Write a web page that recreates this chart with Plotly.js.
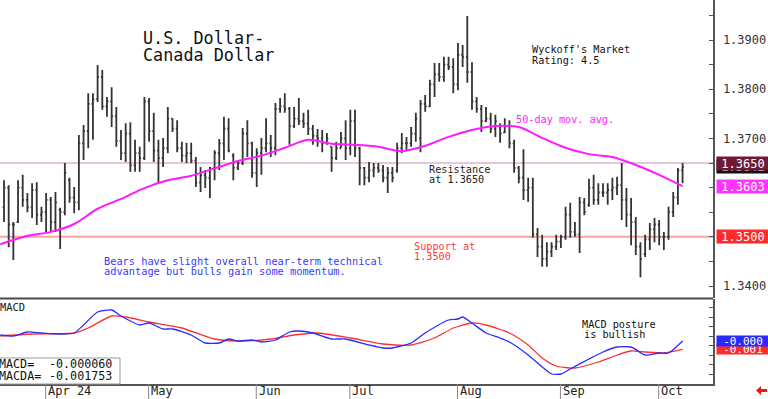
<!DOCTYPE html>
<html><head><meta charset="utf-8">
<script src="https://cdn.plot.ly/plotly-3.0.1.min.js"></script>
<style>html,body{margin:0;padding:0;background:#fff}#chart{width:768px;height:399px}</style>
</head><body><div id="chart"></div>
<script>
// Daily bars, 2024-03-19 .. 2024-10-08 (trading-day index)
const opens = [1.3560,1.3600,1.3525,1.3530,1.3600,1.3575,1.3560,1.3595,1.3545,1.3550,
1.3575,1.3530,1.3555,1.3550,1.3615,1.3580,1.3570,1.3690,1.3715,1.3770,
1.3780,1.3825,1.3765,1.3775,1.3745,1.3695,1.3670,1.3710,1.3645,1.3670,
1.3660,1.3775,1.3715,1.3675,1.3660,1.3680,1.3740,1.3720,1.3680,1.3665,
1.3670,1.3655,1.3610,1.3625,1.3620,1.3640,1.3670,1.3690,1.3720,1.3665,
1.3640,1.3650,1.3710,1.3690,1.3630,1.3670,1.3680,1.3690,1.3680,1.3760,
1.3765,1.3760,1.3725,1.3740,1.3735,1.3730,1.3720,1.3705,1.3700,1.3690,
1.3683,1.3660,1.3680,1.3700,1.3680,1.3735,1.3680,1.3640,1.3620,1.3635,
1.3640,1.3635,1.3620,1.3630,1.3635,1.3680,1.3690,1.3690,1.3710,1.3700,
1.3770,1.3765,1.3810,1.3830,1.3825,1.3850,1.3845,1.3810,1.3870,1.3865,
1.3835,1.3775,1.3760,1.3735,1.3740,1.3720,1.3725,1.3712,1.3725,1.3690,
1.3640,1.3620,1.3595,1.3600,1.3505,1.3480,1.3455,1.3470,1.3480,1.3490,
1.3500,1.3545,1.3510,1.3505,1.3570,1.3565,1.3600,1.3575,1.3590,1.3590,
1.3595,1.3600,1.3605,1.3575,1.3545,1.3530,1.3480,1.3465,1.3495,1.3515,
1.3525,1.3500,1.3500,1.3550,1.3580,1.3635];
const highs = [1.3615,1.3605,1.3530,1.3615,1.3626,1.3589,1.3609,1.3611,1.3561,1.3589,
1.3581,1.3591,1.3559,1.3650,1.3620,1.3601,1.3707,1.3727,1.3792,1.3792,
1.3849,1.3839,1.3784,1.3804,1.3764,1.3717,1.3731,1.3733,1.3697,1.3683,
1.3784,1.3782,1.3752,1.3697,1.3701,1.3764,1.3741,1.3737,1.3693,1.3691,
1.3691,1.3662,1.3642,1.3636,1.3642,1.3676,1.3699,1.3744,1.3741,1.3670,
1.3656,1.3721,1.3737,1.3693,1.3680,1.3701,1.3741,1.3707,1.3772,1.3782,
1.3792,1.3764,1.3764,1.3782,1.3752,1.3758,1.3727,1.3719,1.3717,1.3711,
1.3683,1.3693,1.3713,1.3737,1.3758,1.3758,1.3683,1.3642,1.3652,1.3650,
1.3650,1.3646,1.3642,1.3642,1.3691,1.3711,1.3703,1.3723,1.3752,1.3778,
1.3788,1.3819,1.3853,1.3853,1.3866,1.3866,1.3863,1.3894,1.3890,1.3949,
1.3855,1.3784,1.3768,1.3764,1.3752,1.3748,1.3731,1.3741,1.3737,1.3697,
1.3644,1.3678,1.3620,1.3620,1.3518,1.3504,1.3489,1.3489,1.3504,1.3504,
1.3561,1.3569,1.3530,1.3581,1.3579,1.3618,1.3626,1.3609,1.3609,1.3609,
1.3620,1.3622,1.3650,1.3599,1.3579,1.3540,1.3489,1.3504,1.3528,1.3538,
1.3534,1.3510,1.3561,1.3591,1.3640,1.3650];
const lows = [1.3530,1.3479,1.3453,1.3528,1.3561,1.3550,1.3538,1.3524,1.3530,1.3510,
1.3510,1.3510,1.3475,1.3544,1.3569,1.3548,1.3554,1.3656,1.3680,1.3697,
1.3774,1.3758,1.3744,1.3723,1.3683,1.3656,1.3652,1.3632,1.3632,1.3632,
1.3656,1.3693,1.3652,1.3609,1.3642,1.3670,1.3713,1.3672,1.3652,1.3650,
1.3650,1.3601,1.3591,1.3599,1.3579,1.3615,1.3636,1.3656,1.3672,1.3615,
1.3636,1.3646,1.3662,1.3620,1.3601,1.3626,1.3672,1.3662,1.3666,1.3752,
1.3752,1.3687,1.3721,1.3727,1.3721,1.3707,1.3687,1.3683,1.3672,1.3687,
1.3632,1.3656,1.3680,1.3656,1.3666,1.3662,1.3605,1.3605,1.3611,1.3621,
1.3630,1.3611,1.3589,1.3611,1.3630,1.3670,1.3676,1.3683,1.3693,1.3672,
1.3754,1.3764,1.3784,1.3815,1.3815,1.3839,1.3792,1.3798,1.3845,1.3813,
1.3758,1.3752,1.3713,1.3733,1.3711,1.3703,1.3691,1.3711,1.3680,1.3630,
1.3609,1.3575,1.3571,1.3498,1.3459,1.3439,1.3439,1.3459,1.3473,1.3477,
1.3494,1.3498,1.3500,1.3467,1.3544,1.3561,1.3565,1.3565,1.3581,1.3565,
1.3575,1.3585,1.3534,1.3520,1.3483,1.3463,1.3418,1.3459,1.3473,1.3489,
1.3483,1.3473,1.3494,1.3540,1.3565,1.3609];
const closes = [1.3600,1.3525,1.3525,1.3600,1.3575,1.3560,1.3595,1.3545,1.3550,1.3575,
1.3530,1.3570,1.3550,1.3630,1.3580,1.3570,1.3690,1.3715,1.3770,1.3780,
1.3825,1.3765,1.3775,1.3745,1.3695,1.3670,1.3710,1.3645,1.3670,1.3660,
1.3775,1.3715,1.3675,1.3660,1.3680,1.3740,1.3720,1.3680,1.3665,1.3670,
1.3655,1.3610,1.3625,1.3620,1.3640,1.3670,1.3690,1.3720,1.3675,1.3640,
1.3650,1.3710,1.3690,1.3630,1.3670,1.3680,1.3690,1.3680,1.3760,1.3765,
1.3760,1.3725,1.3740,1.3735,1.3730,1.3720,1.3705,1.3700,1.3690,1.3700,
1.3660,1.3680,1.3700,1.3680,1.3735,1.3680,1.3640,1.3620,1.3635,1.3640,
1.3635,1.3620,1.3630,1.3620,1.3680,1.3690,1.3690,1.3710,1.3740,1.3770,
1.3765,1.3810,1.3830,1.3825,1.3850,1.3845,1.3810,1.3870,1.3865,1.3835,
1.3775,1.3760,1.3735,1.3740,1.3720,1.3735,1.3710,1.3725,1.3690,1.3640,
1.3620,1.3595,1.3600,1.3505,1.3480,1.3455,1.3470,1.3480,1.3490,1.3500,
1.3545,1.3510,1.3505,1.3570,1.3550,1.3600,1.3575,1.3590,1.3590,1.3595,
1.3600,1.3605,1.3575,1.3545,1.3530,1.3480,1.3455,1.3495,1.3515,1.3525,
1.3500,1.3500,1.3550,1.3580,1.3635,1.3642];
const dayIdx = opens.map((_, i) => i);

// 50-day moving average
const maIdx  = [-0.8,5,10,15,20,25,30,35,40,45,50,55,60,65,70,75,80,85,90,95,100,105,110,115,120,125,130,135,140,145];
const maVals = [1.3485,1.3502,1.3510,1.3526,1.3557,1.3577,1.3599,1.3615,1.3624,1.3639,1.3654,1.3665,1.3681,1.3697,1.3689,1.3687,1.3683,1.3674,1.3685,1.3703,1.3717,1.3725,1.3723,1.3701,1.3681,1.3668,1.3662,1.3646,1.3626,1.3603];

// MACD and its signal line (MACDA)
const macdIdx  = [-0.8,2,5,8,12,15,17,20,23,25,29,31,34,36,40,43,46,48,50,53,55,58,61,63,66,70,73,78,81,83,87,90,95,97,98,100,103,106,108,112,115,117,119,121,125,128,131,134,137,140,142,145];
const macdVals = [0.00114,0.00094,0.00174,0.00154,0.00134,0.00154,0.00314,0.00574,0.00614,0.00494,0.00314,0.00354,0.00234,0.00234,0.00114,-0.00046,-0.00046,0.00034,-0.00006,0.00014,-0.00026,0.00014,0.00174,0.00194,0.00154,0.00034,0.00034,-0.00086,-0.00146,-0.00146,-0.00046,0.00154,0.00414,0.00434,0.00474,0.00354,0.00154,0.00054,-0.00026,-0.00286,-0.00526,-0.00666,-0.00666,-0.00566,-0.00366,-0.00226,-0.00126,-0.00126,-0.00286,-0.00246,-0.00246,-0.00006];
const sigIdx  = [-0.8,6,15,18,23,26,31,38,45,50,57,62,67,74,81,87,92,96,100,103,108,112,115,118,122,127,131,134,137,141,145];
const sigVals = [0.00094,0.00134,0.00154,0.00254,0.00494,0.00474,0.00374,0.00254,0.00034,-0.00006,0.00034,0.00114,0.00154,0.00054,-0.00066,-0.00086,0.00054,0.00254,0.00354,0.00314,0.00154,-0.00086,-0.00346,-0.00506,-0.00546,-0.00426,-0.00286,-0.00206,-0.00226,-0.00246,-0.00175];

// Axis ticks (1.3500 and 1.3600 are covered by the value boxes in the reference)
const monthIdx = [9,31,54,74,97,119,140];
const monthLabels = ['Apr 24','May','Jun','Jul','Aug','Sep','Oct'];
const priceTicks = [1.3400,1.3450,1.3500,1.3550,1.3600,1.3650,1.3700,1.3750,1.3800,1.3850,1.3900,1.3950];
const priceTickText = ['1.3400','','','','','','1.3700','','1.3800','','1.3900',''];

// Reference levels and last values
const resistance = 1.3650, support = 1.3500, lastClose = 1.3642, lastMA = 1.3603;
const lastMacd = -0.000060, lastMacda = -0.001753;

const MONO = 'DejaVu Sans Mono, monospace';
const PW = 713, PH = 384;
const px = v => v / PW;
const py = v => (PH - v) / PH;
const trunc3 = v => (v < 0 ? '-' : '') + (Math.floor(Math.abs(v) * 1000) / 1000).toFixed(3);

function txt(text, x, y, size, color, extra) {
  return Object.assign({text: text, xref: 'paper', yref: 'paper', x: px(x), y: py(y),
    xanchor: 'left', yanchor: 'middle', showarrow: false, borderpad: 0,
    font: {family: MONO, size: size, color: color}}, extra || {});
}
function box(text, yref, yval, bg, size, h) {
  return {text: text, xref: 'paper', x: 1, xshift: 3, xanchor: 'left', yref: yref, y: yval,
    yanchor: 'middle', showarrow: false, bgcolor: bg, width: 52, height: h, borderpad: 0,
    align: 'center', font: {family: MONO, size: size, color: '#ffffff'}};
}

const traces = [
  {type: 'ohlc', x: dayIdx, open: opens, high: highs, low: lows, close: closes,
   xaxis: 'x', yaxis: 'y', tickwidth: 0.3, hoverinfo: 'skip',
   increasing: {line: {color: '#333333', width: 1.8}},
   decreasing: {line: {color: '#333333', width: 1.8}}},
  {type: 'scatter', mode: 'lines', x: maIdx, y: maVals, xaxis: 'x', yaxis: 'y',
   line: {color: '#ff1aff', width: 2, shape: 'spline', smoothing: 0.8}},
  {type: 'scatter', mode: 'lines', x: sigIdx, y: sigVals, xaxis: 'x', yaxis: 'y2',
   line: {color: '#ff3030', width: 1.3, shape: 'spline', smoothing: 0.6}},
  {type: 'scatter', mode: 'lines', x: macdIdx, y: macdVals, xaxis: 'x', yaxis: 'y2',
   line: {color: '#2a2aff', width: 1.3, shape: 'spline', smoothing: 0.6}}
];

const shapes = [
  {type: 'line', layer: 'below', xref: 'paper', x0: 0, x1: 1, yref: 'y', y0: resistance, y1: resistance,
   line: {color: '#c98fb5', width: 1.2}},
  {type: 'line', layer: 'below', xref: 'paper', x0: 0, x1: 1, yref: 'y', y0: support, y1: support,
   line: {color: '#f7a3a3', width: 2}},
  {type: 'line', xref: 'paper', x0: 0, x1: 1, yref: 'paper', y0: py(298.5), y1: py(298.5),
   line: {color: '#4a4a4a', width: 2}},
  {type: 'rect', xref: 'paper', yref: 'paper', x0: px(-2), x1: px(120), y0: py(384), y1: py(358),
   fillcolor: '#ffffff', line: {color: '#9a9a9a', width: 1}},
  {type: 'path', xref: 'paper', yref: 'paper', fillcolor: '#e81818', line: {width: 0},
   path: 'M' + px(756) + ',' + py(390.5) + ' L' + px(761) + ',' + py(386) + ' L' + px(761) + ',' + py(389) +
         ' L' + px(767) + ',' + py(389) + ' L' + px(767) + ',' + py(392) + ' L' + px(761) + ',' + py(392) +
         ' L' + px(761) + ',' + py(395) + ' Z'}
];
monthIdx.forEach(m => shapes.push({type: 'line', xref: 'x', x0: m - 0.1, x1: m - 0.1, yref: 'paper',
  y0: py(384), y1: py(399), line: {color: '#8a8a8a', width: 1}}));

const annotations = [
  txt('U.S. Dollar-', 142, 38, 16.8, '#111111'),
  txt('Canada Dollar', 142, 54.5, 16.8, '#111111'),
  txt("Wyckoff's Market", 531, 49.5, 10.2, '#111111'),
  txt('Rating: 4.5', 531, 60.5, 10.2, '#111111'),
  txt('50-day mov. avg.', 515, 119, 10.2, '#ff22ff'),
  txt('Resistance', 428, 169.5, 10.2, '#222222'),
  txt('at 1.3650', 428, 179.5, 10.2, '#222222'),
  txt('Support at', 413, 246.5, 10.2, '#ff3a3a'),
  txt('1.3500', 413, 256.5, 10.2, '#ff3a3a'),
  txt('Bears have slight overall near-term technical', 103, 261, 10.3, '#3a3aff'),
  txt('advantage but bulls gain some momentum.', 103, 271, 10.3, '#3a3aff'),
  txt('MACD posture', 581, 324.5, 10.2, '#111111'),
  txt('is bullish', 583, 334.5, 10.2, '#111111'),
  txt('MACD', -1, 306.5, 10.4, '#111111'),
  txt('MACD=', -2, 364, 11.7, '#111111'),
  txt(lastMacd.toFixed(6), 48, 364, 11.7, '#111111'),
  txt('MACDA=', -2, 376, 11.7, '#111111'),
  txt(lastMacda.toFixed(6), 48, 376, 11.7, '#111111'),
  box(lastClose.toFixed(4), 'y', lastClose, '#111111', 12, 13),
  box(resistance.toFixed(4), 'y', resistance, '#6e1a35', 12, 13),
  box(lastMA.toFixed(4), 'y', lastMA, '#ff33ff', 12, 13),
  box(support.toFixed(4), 'y', support, '#ff2a2a', 12, 13),
  box(trunc3(lastMacda), 'y2', lastMacda, '#ff2a2a', 11, 10),
  box(trunc3(lastMacd), 'y2', lastMacd, '#2a2aff', 11, 10)
];
monthIdx.forEach((m, i) => annotations.push({text: monthLabels[i], xref: 'x', x: m, xshift: 1,
  xanchor: 'left', yref: 'paper', y: py(391), yanchor: 'middle', showarrow: false, borderpad: 0,
  font: {family: MONO, size: 12, color: '#222222'}}));

const layout = {
  width: 768, height: 399,
  margin: {l: 0, r: 55, t: 0, b: 15, pad: 0},
  paper_bgcolor: '#ffffff', plot_bgcolor: '#ffffff',
  showlegend: false,
  xaxis: {range: [-0.855, 151.5], anchor: 'y2', showgrid: false, zeroline: false,
    showticklabels: false, ticks: '', showline: true, linecolor: '#555555', linewidth: 1.5,
    rangeslider: {visible: false}, fixedrange: true},
  yaxis: {domain: [py(298), 1], range: [1.33756, 1.39813], side: 'right', showgrid: false,
    zeroline: false, showline: true, linecolor: '#555555', linewidth: 1.5,
    tickmode: 'array', tickvals: priceTicks, ticktext: priceTickText,
    ticks: 'inside', ticklen: 4, tickcolor: '#555555', ticklabelstandoff: 6,
    tickfont: {family: MONO, size: 12, color: '#333333'}},
  yaxis2: {domain: [0, py(299)], range: [-0.00866, 0.00834], side: 'right', showgrid: false,
    zeroline: false, showline: true, linecolor: '#555555', linewidth: 1.5,
    tick0: 0.0009, dtick: 0.0019, ticks: 'inside', ticklen: 4, tickcolor: '#555555',
    showticklabels: false},
  shapes: shapes,
  annotations: annotations
};

Plotly.newPlot('chart', traces, layout, {staticPlot: true, displayModeBar: false});
</script>
</body></html>
